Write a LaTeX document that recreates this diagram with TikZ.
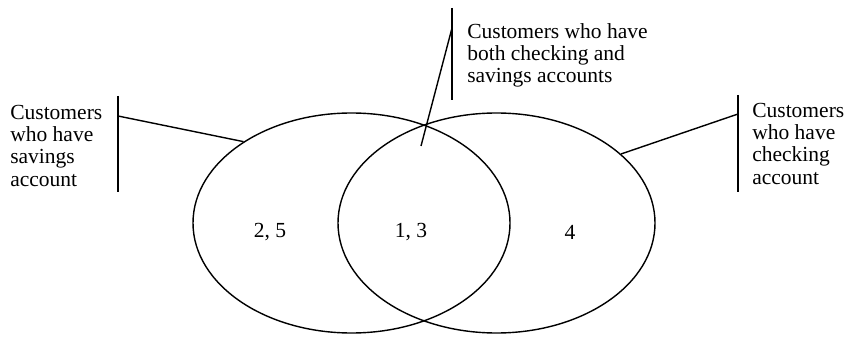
\documentclass[tikz,border=0pt]{standalone}
\usepackage{fontspec}
\setmainfont{Liberation Serif}
\usetikzlibrary{shapes.geometric,positioning}

\tikzset{
  setring/.style={draw, ellipse, line width=1pt, inner sep=0pt,
    minimum width=7.925cm, minimum height=5.5cm},
  callout/.style={align=left, anchor=north west, inner sep=0pt,
    font=\fontsize{15.3}{15.8}\selectfont},
  region/.style={font=\fontsize{15.3}{15.8}\selectfont},
  bar/.style={line width=1pt}
}

\begin{document}
\begin{tikzpicture}
    \useasboundingbox (0,0) rectangle (21.225,8.4);
    \node[setring] (savings) at (8.7875,2.825) {};
    \node[setring] (checking) at (12.4125,2.825) {};
    \node[region] (onlysav) at (6.75,2.6) {2, 5};
    \node[region] (both) at (10.275,2.6) {1, 3};
    \node[region] (onlychk) at (14.25,2.6) {4};
    \node[callout] (savtext) at (0.25,5.775) {Customers\\who have\\savings\\account};
    \node[callout] (bothtext) at (11.675,7.825) {Customers who have\\both checking and\\savings accounts};
    \node[callout] (chktext) at (18.8,5.825) {Customers\\who have\\checking\\account};
    \draw[bar] (2.95,6.0) -- (2.95,3.6);
    \draw[bar] (11.3,8.2) -- (11.3,5.9);
    \draw[bar] (18.45,6.025) -- (18.45,3.6);
    \coordinate (savbar) at (2.95,5.5);
    \coordinate (bothbar) at (11.3,7.7);
    \coordinate (chkbar) at (18.45,5.55);
    \coordinate (bothend) at (10.525,4.75);
    \draw[bar] (savbar) -- (savings.143.8);
    \draw[bar] (bothbar) -- (bothend);
    \draw[bar] (chkbar) -- (checking.29.5);
\end{tikzpicture}
\end{document}
